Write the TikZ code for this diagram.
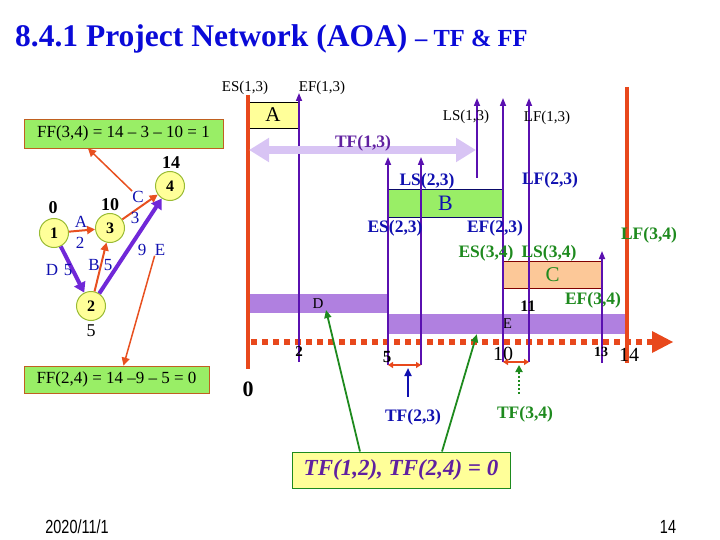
\documentclass[tikz,border=0pt]{standalone}
\usepackage{fontspec}
\setmainfont{Liberation Serif}
\newfontfamily\footfont[FakeStretch=0.76]{Liberation Sans}
\usetikzlibrary{arrows.meta}
\definecolor{myred}{HTML}{E8481C}
\definecolor{mypurp}{HTML}{5A10B0}
\definecolor{barpurp}{HTML}{B080E0}
\definecolor{lav}{HTML}{D8C4F4}
\definecolor{tblue}{HTML}{1010B0}
\definecolor{titblue}{HTML}{0A0AD8}
\definecolor{tgreen}{HTML}{1E8A1E}
\definecolor{lgreen}{HTML}{99EE66}
\definecolor{lyellow}{HTML}{FFFF99}
\definecolor{lorange}{HTML}{FCC898}
\definecolor{tfpurp}{HTML}{6020A0}
\definecolor{circgreen}{HTML}{99BB33}
\definecolor{netor}{HTML}{E85020}
\definecolor{netpu}{HTML}{7028D8}
\definecolor{boxbr}{HTML}{C06020}
\newcommand{\pxs}[1]{\fontsize{#1}{#1}\selectfont}
\begin{document}
\begin{tikzpicture}[x=1pt,y=-1pt,
  lab/.style={inner sep=0pt, font=\pxs{15}},
  blab/.style={inner sep=0pt, font=\pxs{17.5}\bfseries, text=tblue},
  glab/.style={inner sep=0pt, font=\pxs{17.5}\bfseries, text=tgreen},
  netl/.style={inner sep=0pt, font=\pxs{17}, text=tblue},
  numl/.style={inner sep=0pt, font=\pxs{18}\bfseries},
  circ/.style={circle, draw=circgreen, line width=1pt, fill=lyellow, minimum size=29pt, inner sep=0pt, font=\pxs{16}\bfseries},
  oarr/.style={draw=netor, line width=2pt, -{Triangle[length=8pt,width=8pt]}},
  parr/.style={draw=netpu, line width=4pt, -{Triangle[length=10pt,width=12pt]}},
  vline/.style={draw=mypurp, line width=1.6pt},
  vtip/.style={vline, -{Triangle[length=8pt,width=6pt]}},
  redl/.style={draw=myred, line width=4pt},
  ffbox/.style={draw=boxbr, line width=0.8pt, fill=lgreen, inner sep=0pt, font=\pxs{17}},
  bar/.style={fill=barpurp, inner sep=0pt, font=\pxs{15}},
  tfarr/.style={draw=myred, line width=2.5pt, {Triangle[length=5pt,width=6pt]}-{Triangle[length=5pt,width=6pt]}}
]
\useasboundingbox (0,0) rectangle (720,540);

% title
\node[anchor=base west, inner sep=0pt, text=titblue, font=\pxs{31.5}\bfseries] (title) at (15,47)
  {8.4.1 Project Network (AOA) {\pxs{24.5}– TF \& FF}};

% ---------- network ----------
\node[circ] (n1) at (54,233) {1};
\node[circ] (n3) at (110,228) {3};
\node[circ] (n4) at (170,186) {4};
\node[circ] (n2) at (91,306) {2};
\node[numl] (t1) at (53,208) {0};
\node[numl] (t3) at (110,205) {10};
\node[numl] (t4) at (171,163) {14};
\node[numl, font=\pxs{18}] (t2) at (91,331) {5};

\draw[oarr] (n1) -- (n3);
\draw[oarr] (n3) -- (n4);
\draw[oarr] (n2) -- (n3);
\draw[parr] (n1) -- (n2);
\draw[parr] (n2) -- (n4);

\node[netl] (lA) at (81,222) {A};
\node[netl] (lA2) at (80,243) {2};
\node[netl] (lC) at (138,197) {C};
\node[netl] (lC3) at (135,218) {3};
\node[netl] (lD) at (52,270) {D};
\node[netl] (lD5) at (68,270) {5};
\node[netl] (lB) at (94,265) {B};
\node[netl] (lB5) at (108,265) {5};
\node[netl] (lE9) at (142,250) {9};
\node[netl] (lE) at (160,250) {E};

\node[ffbox, minimum width=199pt, minimum height=29pt] (ff34) at (123.5,133.5) {FF(3,4) = 14 – 3 – 10 = 1};
\node[ffbox, minimum width=185pt, minimum height=27pt] (ff24) at (116.5,379.5) {FF(2,4) = 14 –9 – 5 = 0};
\draw[oarr, line width=1.5pt] (lC.north west) -- ([xshift=-35.5pt]ff34.south);
\draw[oarr, line width=1.5pt] (lE.south west) -- ([xshift=7pt]ff24.north);

% ---------- chart ----------
% bars
\node[bar, minimum width=140pt, minimum height=19pt] (Dbar) at (318,303.5) {D};
\node[bar, minimum width=239pt, minimum height=20pt] (Ebar) at (507.5,324) {E};

% axis
\draw[myred, line width=6pt, dash pattern=on 6pt off 5pt] (251,342) -- (652,342);
\fill[myred] (652,331) -- (673,342) -- (652,353) -- cycle;

% boxes
\node[draw=black, line width=0.8pt, fill=lyellow, minimum width=50pt, minimum height=26pt, inner sep=0pt, font=\pxs{21}] (boxA) at (273,115) {A};
\node[draw=tblue!60!black, line width=0.8pt, fill=lgreen, minimum width=115pt, minimum height=28pt, inner sep=0pt, font=\pxs{22}, text=tblue] (boxB) at (445.5,203) {B};
\node[draw=red!50!black, line width=0.8pt, fill=lorange, minimum width=99pt, minimum height=27pt, inner sep=0pt, font=\pxs{21}, text=tgreen] (boxC) at (552.5,274.5) {C};

% red verticals
\draw[redl] (248,95) -- (248,369);
\draw[redl] (627,87) -- (627,363);

% purple verticals
\draw[vtip] (299,362) -- (299,93);
\draw[vtip] (477,178) -- (477,98);
\draw[vtip] (503,362) -- (503,98);
\draw[vtip] (529,362) -- (529,98);
\draw[vtip] (388,365) -- (388,157);
\draw[vtip] (421,365) -- (421,157);
\draw[vtip] (602,363) -- (602,251);

% TF(1,3)
\draw[draw=lav, line width=8pt, {Triangle[length=20pt,width=23pt]}-{Triangle[length=20pt,width=23pt]}] (249,150) -- (476,150);
\node[inner sep=0pt, font=\pxs{17.5}\bfseries, text=tfpurp] (tf13) at (363,143) {TF(1,3)};

% labels
\node[lab] (es13) at (245,88) {ES(1,3)};
\node[lab] (ef13) at (322,88) {EF(1,3)};
\node[lab] (ls13) at (466,117) {LS(1,3)};
\node[lab] (lf13) at (547,118) {LF(1,3)};
\node[blab] (ls23) at (427,181) {LS(2,3)};
\node[blab] (lf23) at (550,180) {LF(2,3)};
\node[blab] (es23) at (395,228) {ES(2,3)};
\node[blab] (ef23) at (495,228) {EF(2,3)};
\node[glab] (es34) at (486,253) {ES(3,4)};
\node[glab] (ls34) at (549,253) {LS(3,4)};
\node[glab] (lf34) at (649,235) {LF(3,4)};
\node[glab] (ef34) at (593,300) {EF(3,4)};
\node[inner sep=0pt, font=\pxs{16}\bfseries] (l11) at (528,306) {11};

% tick labels
\node[inner sep=0pt, font=\pxs{22}\bfseries] (x0) at (248,389) {0};
\node[inner sep=0pt, font=\pxs{15}\bfseries] (x2) at (299,352) {2};
\node[inner sep=0pt, font=\pxs{17}\bfseries] (x5) at (387,357) {5};
\node[inner sep=0pt, font=\pxs{20}] (x10) at (503,354) {10};
\node[inner sep=0pt, font=\pxs{14}\bfseries] (x13) at (601,352) {13};
\node[inner sep=0pt, font=\pxs{20}] (x14) at (629,355) {14};

% TF(2,3), TF(3,4)
\coordinate (a23) at (388,365);
\coordinate (b23) at (421,365);
\coordinate (m23) at (408,368);
\draw[tfarr] (a23) -- (b23);
\coordinate (a34) at (503,362);
\coordinate (b34) at (529,362);
\coordinate (m34) at (519,365);
\draw[tfarr] (a34) -- (b34);
\node[blab] (tf23) at (413,417) {TF(2,3)};
\node[glab] (tf34) at (525,414) {TF(3,4)};
\draw[draw=tblue, line width=2pt, -{Triangle[length=8pt,width=7pt]}] ([yshift=12pt,xshift=-5pt]tf23.north) -- (m23);
\draw[draw=tgreen, line width=2pt, dotted, -{Triangle[length=7pt,width=7pt]}] ([yshift=12pt,xshift=-6pt]tf34.north) -- (m34);

% TF(1,2), TF(2,4) box
\node[draw=tgreen, line width=1pt, fill=lyellow, minimum width=218pt, minimum height=36pt, inner sep=0pt, font=\pxs{23}\bfseries\itshape, text=tfpurp] (tf12) at (401,470) {TF(1,2), TF(2,4) = 0};
\draw[draw=tgreen, line width=1.8pt, -{Triangle[length=8pt,width=7pt]}] ([xshift=-41pt]tf12.north) -- ([xshift=8pt,yshift=-6.5pt]Dbar.center);
\draw[draw=tgreen, line width=1.8pt, -{Triangle[length=8pt,width=7pt]}] ([xshift=41pt]tf12.north) -- ([xshift=89pt]Ebar.south west);

% footer
\node[inner sep=0pt, font=\footfont\pxs{19}] (date) at (77,527) {2020/11/1};
\node[inner sep=0pt, font=\footfont\pxs{19}] (page) at (668,527) {14};
\end{tikzpicture}
\end{document}
